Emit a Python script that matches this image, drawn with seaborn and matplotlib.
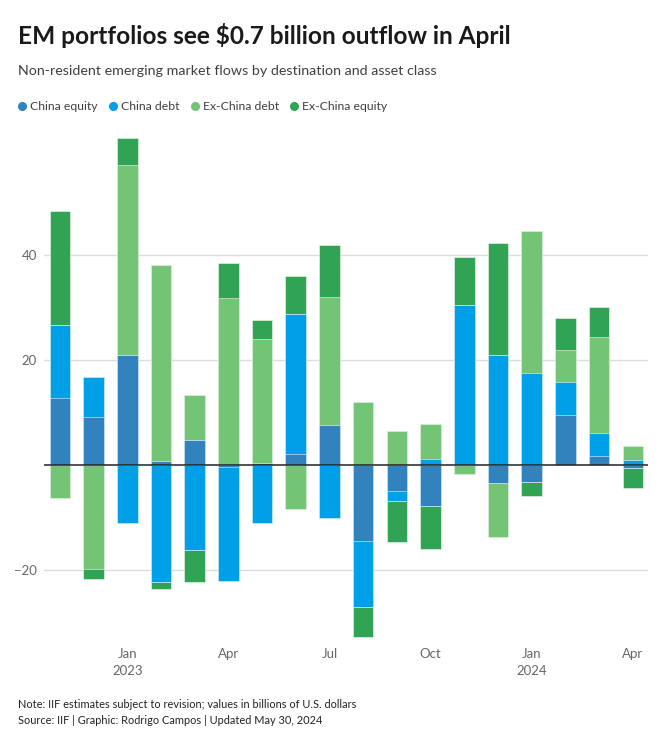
import matplotlib
matplotlib.use("Agg")
import matplotlib.pyplot as plt
from matplotlib.lines import Line2D
import numpy as np
import seaborn as sns

# monthly flows, billions of USD
months = ["Nov 2022", "Dec 2022", "Jan 2023", "Feb 2023", "Mar 2023", "Apr 2023",
          "May 2023", "Jun 2023", "Jul 2023", "Aug 2023", "Sep 2023", "Oct 2023",
          "Nov 2023", "Dec 2023", "Jan 2024", "Feb 2024", "Mar 2024", "Apr 2024"]
china_equity = [12.6, 9.0, 20.9, 0.7, 4.7, -0.5, 0.3, 2.1, 7.6, -14.5, -5.0, -7.9,
                0.0, -3.5, -3.3, 9.5, 1.7, -0.7]
china_debt = [14.0, 7.6, -11.1, -22.3, -16.2, -21.6, -11.2, 26.6, -10.2, -12.7, -2.0, 1.0,
              30.4, 20.9, 17.5, 6.2, 4.3, 0.9]
exchina_debt = [-6.4, -19.8, 36.1, 37.4, 8.5, 31.8, 23.7, -8.4, 24.4, 12.0, 6.4, 6.8,
                -1.8, -10.3, 27.0, 6.1, 18.3, 2.6]
exchina_equity = [21.6, -1.9, 5.2, -1.4, -6.1, 6.6, 3.5, 7.2, 9.9, -5.7, -7.8, -8.1,
                  9.2, 21.3, -2.7, 6.2, 5.8, -3.7]

series = ["China equity", "China debt", "Ex-China debt", "Ex-China equity"]
colors = ["#3182bd", "#00a0e9", "#74c476", "#31a354"]

tick_pos = [2, 5, 8, 11, 14, 17]
tick_labels = ["Jan\n2023", "Apr", "Jul", "Oct", "Jan\n2024", "Apr"]

sns.set_theme(style="white")
plt.rcParams["font.family"] = ["Lato", "DejaVu Sans"]

fig = plt.figure(figsize=(6.58, 7.32), dpi=100)
ax = fig.add_axes([44 / 658, 92 / 732, 604 / 658, 512 / 732])

vals = np.array([china_equity, china_debt, exchina_debt, exchina_equity])
pos_cum = np.cumsum(np.clip(vals, 0, None), axis=0)
neg_cum = np.cumsum(np.clip(vals, None, 0), axis=0)

# stacked look: draw cumulative totals outermost first, inner layers on top
for i in range(len(series) - 1, -1, -1):
    for cum in (pos_cum[i], neg_cum[i]):
        sns.barplot(x=months, y=cum, color=colors[i], saturation=1, width=0.61,
                    errorbar=None, ax=ax, edgecolor=(1, 1, 1, 0.6), linewidth=0.6,
                    zorder=3)

ax.axhline(0, color="#222222", lw=1.1, zorder=5)
ax.set_ylim(-33.4, 64.1)
ax.set_xlim(-0.47, 17.45)
ax.set_yticks([-20, 20, 40])
ax.set_yticklabels(["\u221220", "20", "40"])
ax.set_xticks(tick_pos)
ax.set_xticklabels(tick_labels)
ax.grid(axis="y", color="#dcdcdc", lw=1, zorder=0)
ax.tick_params(axis="y", length=0, pad=5, labelsize=9.5, labelcolor="#666666")
ax.tick_params(axis="x", length=0, pad=6, labelsize=9.5, labelcolor="#666666")
for lab in ax.get_xticklabels():
    lab.set_linespacing(1.5)
ax.set_xlabel("")
ax.set_ylabel("")
sns.despine(ax=ax, left=True, bottom=True)

fig.text(18 / 658, 1 - 35 / 732, "EM portfolios see $0.7 billion outflow in April",
         fontsize=17.6, fontweight="bold", color="#1a1a1a", va="center", ha="left")
fig.text(18 / 658, 1 - 71 / 732,
         "Non-resident emerging market flows by destination and asset class",
         fontsize=10.3, color="#404040", va="center", ha="left")

handles = [Line2D([], [], marker="o", ls="", color=c, markersize=5.5) for c in colors]
fig.legend(handles, series, loc="center left", bbox_to_anchor=(11 / 658, 1 - 107 / 732),
           ncol=4, frameon=False, fontsize=8.8, handletextpad=0.15, columnspacing=0.75,
           handlelength=1.0, labelcolor="#404040", borderaxespad=0)

fig.text(18 / 658, 1 - 705 / 732,
         "Note: IIF estimates subject to revision; values in billions of U.S. dollars",
         fontsize=7.9, color="#222222", va="center", ha="left")
fig.text(18 / 658, 1 - 721 / 732,
         "Source: IIF | Graphic: Rodrigo Campos | Updated May 30, 2024",
         fontsize=7.9, color="#222222", va="center", ha="left")

fig.savefig("out.png", dpi=100)
